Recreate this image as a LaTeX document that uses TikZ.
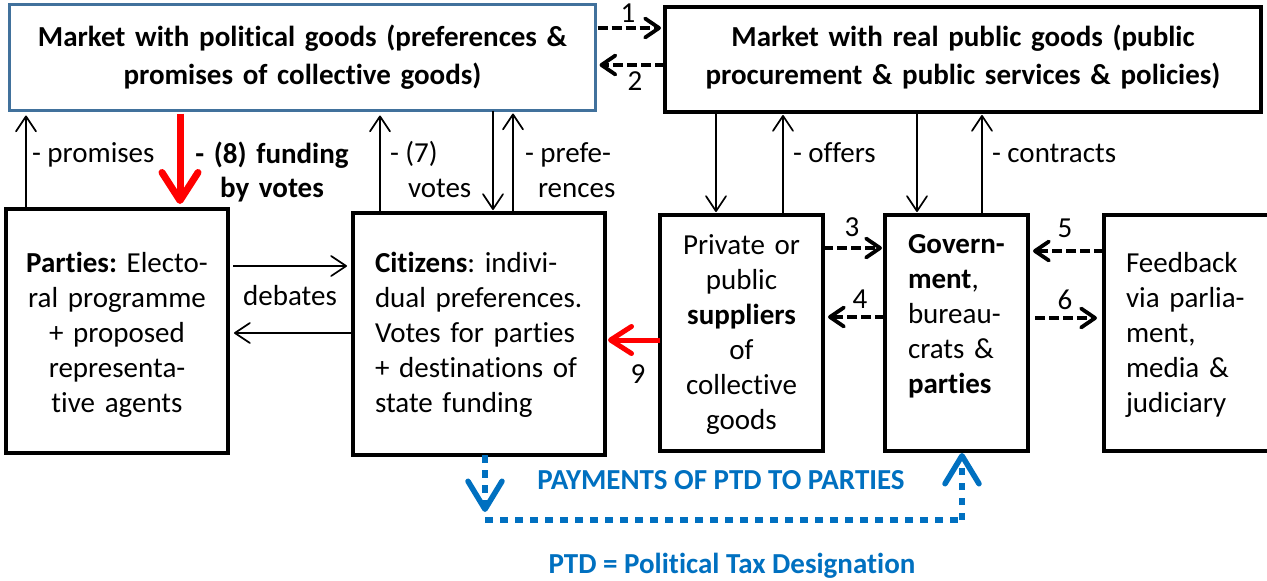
\documentclass[tikz,border=0pt]{standalone}
\usepackage{fontspec}
\setmainfont{Carlito}[Ligatures=NoCommon]
\frenchspacing
\usetikzlibrary{arrows.meta}
\definecolor{pgblue}{HTML}{41719C}
\definecolor{ptdblue}{HTML}{0070C0}
\definecolor{fundred}{HTML}{FF0000}
\tikzset{
  every node/.style={inner sep=0pt, outer sep=0pt},
  blk/.style={draw=black, line width=4pt, fill=white},
  pgbox/.style={draw=pgblue, line width=3pt, fill=white},
  lab/.style={font=\fontsize{29}{35}\selectfont, anchor=base west},
  labc/.style={font=\fontsize{29}{35}\selectfont, anchor=base},
  txtl/.style={font=\fontsize{29}{35.2}\selectfont, align=left, text width=#1, anchor=base west},
  txtc/.style={font=\fontsize{29}{35}\selectfont, align=center, text width=#1, anchor=base},
  toptxt/.style={font=\fontsize{29}{38}\selectfont\bfseries, align=center, text width=#1, anchor=base},
  arr/.style={line width=1.7pt, -{Straight Barb[length=15pt,width=20pt,round]}},
  dasharr/.style={line width=3.8pt, dash pattern=on 10pt off 4pt, -{Straight Barb[length=14pt,width=19pt,round]}},
  redarr/.style={draw=fundred, line width=#1},
  ptd/.style={draw=ptdblue, line width=6.5pt, dash pattern=on 7.5pt off 7.5pt},
  ptdhead/.style={-{Straight Barb[length=28pt,width=34pt,line width=5.5pt,round]}},
  ptdtxt/.style={font=\fontsize{29}{35}\selectfont\bfseries, text=ptdblue, anchor=base}
}
\begin{document}
\begin{tikzpicture}[x=1pt,y=-1pt]
\useasboundingbox (0,0) rectangle (1267,581);

% boxes
\node[pgbox, minimum width=586pt, minimum height=106pt] (pg) at (302.5,57.5) {};
\node[blk, minimum width=596pt, minimum height=105pt] (rg) at (963,59.5) {};
\node[blk, minimum width=222pt, minimum height=244pt] (par) at (117,331) {};
\node[blk, minimum width=252pt, minimum height=242pt] (cit) at (479,334) {};
\node[blk, minimum width=163pt, minimum height=236pt] (sup) at (741.5,333) {};
\node[blk, minimum width=143pt, minimum height=236pt] (gov) at (956.5,333) {};
\node[blk, minimum width=171pt, minimum height=236pt] (fb) at (1189.5,333) {};

% box texts
\node[toptxt=580pt] (pgt) at (302.5,46) {Market with political goods (preferences \&\\promises of collective goods)};
\node[toptxt=590pt] (rgt) at (963,46) {Market with real public goods (public\\procurement \& public services \& policies)};
\node[txtc=215pt] (part) at (117,272) {\textbf{Parties:} Electo-\\ral programme\\+ proposed\\representa-\\tive agents};
\node[txtl=225pt] (citt) at (375,272) {\textbf{Citizens}: indivi-\\dual preferences.\\Votes for parties\\+ destinations of\\state funding};
\node[txtc=160pt] (supt) at (741.5,254) {Private or\\public\\\textbf{suppliers}\\of\\collective\\goods};
\node[txtl=130pt] (govt) at (908,253) {\textbf{Govern-}\\\textbf{ment},\\bureau-\\crats \&\\\textbf{parties}};
\node[txtl=140pt] (fbt) at (1126,272) {Feedback\\via parlia-\\ment,\\media \&\\judiciary};

% x positions of vertical connectors
\coordinate (xa) at (26,0);
\coordinate (xb) at (180,0);
\coordinate (xc) at (380,0);
\coordinate (xd) at (493,0);
\coordinate (xe) at (513,0);
\coordinate (xf) at (716,0);
\coordinate (xg) at (783,0);
\coordinate (xh) at (917,0);
\coordinate (xi) at (982,0);
% y positions of horizontal connectors
\coordinate (ya) at (0,28);
\coordinate (yb) at (0,65);
\coordinate (yc) at (0,266);
\coordinate (yd) at (0,333);
\coordinate (ye) at (0,340);
\coordinate (yf) at (0,248);
\coordinate (yg) at (0,317);
\coordinate (yh) at (0,251);
\coordinate (yi) at (0,318);

% vertical connectors
\draw[arr, shorten >=5pt] (par.north -| xa) -- (pg.south -| xa);
\draw[redarr=7pt, shorten <=3pt, shorten >=5pt, -{Straight Barb[length=28pt,width=36pt,round]}] (pg.south -| xb) -- (par.north -| xb);
\draw[arr, shorten >=5pt] (cit.north -| xc) -- (pg.south -| xc);
\draw[arr, shorten >=3pt] (pg.south -| xd) -- (cit.north -| xd);
\draw[arr, shorten >=3pt] (cit.north -| xe) -- (pg.south -| xe);
\draw[arr, shorten >=3pt] (rg.south -| xf) -- (sup.north -| xf);
\draw[arr, shorten >=3pt] (sup.north -| xg) -- (rg.south -| xg);
\draw[arr, shorten >=3pt] (rg.south -| xh) -- (gov.north -| xh);
\draw[arr, shorten >=3pt] (gov.north -| xi) -- (rg.south -| xi);

% horizontal connectors
\draw[dasharr, shorten <=2pt, shorten >=4pt] (pg.east |- ya) -- (rg.west |- ya);
\draw[dasharr, shorten >=4pt] (rg.west |- yb) -- (pg.east |- yb);
\draw[arr, shorten <=5pt, shorten >=6pt] (par.east |- yc) -- (cit.west |- yc);
\draw[arr, shorten >=6pt] (cit.west |- yd) -- (par.east |- yd);
\draw[redarr=5pt, shorten >=3pt, -{Straight Barb[length=21pt,width=27pt,round]}] (sup.west |- ye) -- (cit.east |- ye);
\draw[dasharr, shorten >=3pt] (sup.east |- yf) -- (gov.west |- yf);
\draw[dasharr, shorten >=5pt] (gov.west |- yg) -- (sup.east |- yg);
\draw[dasharr, shorten >=5pt] (fb.west |- yh) -- (gov.east |- yh);
\draw[dasharr, shorten <=7pt, shorten >=7pt] (gov.east |- yi) -- (fb.west |- yi);

% PTD payment path
\coordinate (pL) at (485,520);
\coordinate (pR) at (962,520);
\draw[ptd, ptdhead] (cit.south -| pL) -- ([yshift=8pt]pL);
\draw[ptd] (pL) -- (pR);
\draw[ptd, ptdhead, shorten >=2pt] (pR) -- (gov.south -| pR);

% labels
\node[lab] (lprom) at (32,162) {- promises};
\node[txtc=200pt, font=\fontsize{29}{34}\selectfont\bfseries] (lfund) at (272,163) {- (8) funding\\by votes};
\node[lab] (lvota) at (390,162) {- (7)};
\node[lab] (lvotb) at (408,197) {votes};
\node[lab] (lpref) at (525,162) {- prefe-};
\node[lab] (lprefb) at (538,197) {rences};
\node[lab] (loff) at (793,162) {- offers};
\node[lab] (lcon) at (992,162) {- contracts};
\node[labc] (ldeb) at (290,305) {debates};
\node[labc] (n1) at (628,22) {1};
\node[labc] (n2) at (635,90) {2};
\node[labc] (n3) at (852,236) {3};
\node[labc] (n4) at (860,308) {4};
\node[labc] (n5) at (1065,237) {5};
\node[labc] (n6) at (1065,309) {6};
\node[labc] (n9) at (638,383) {9};
\node[ptdtxt] (pay) at (721,489) {PAYMENTS OF PTD TO PARTIES};
\node[ptdtxt] (ptddef) at (732,573) {PTD = Political Tax Designation};
\end{tikzpicture}
\end{document}
